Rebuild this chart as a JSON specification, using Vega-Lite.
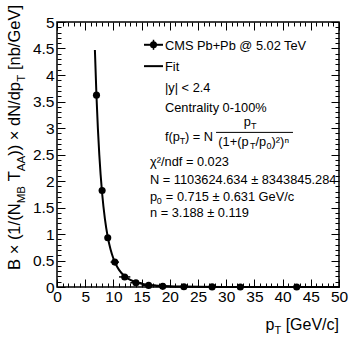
{
  "$schema": "https://vega.github.io/schema/vega-lite/v6.json",
  "width": 282,
  "height": 265,
  "autosize": "none",
  "padding": {"left": 57, "top": 22, "right": 18, "bottom": 56},
  "background": "white",
  "config": {
    "view": {"stroke": "black", "strokeWidth": 1.5},
    "axis": {"grid": false, "domain": false, "tickColor": "black", "tickWidth": 1, "labelColor": "black", "labelFont": "Liberation Sans", "labelFontSize": 15.5, "labelFlush": false, "labelOverlap": false, "labelBound": false, "title": null},
    "text": {"font": "Liberation Sans", "color": "black", "baseline": "alphabetic", "align": "left", "fontSize": 12.8}
  },
  "data": {"values": [{}]},
  "datasets": {
    "fit": [
      {"pT": 6.72, "f": 4.47}, {"pT": 7, "f": 3.6}, {"pT": 7.25, "f": 2.988}, {"pT": 7.5, "f": 2.495},
      {"pT": 8, "f": 1.769}, {"pT": 8.5, "f": 1.281}, {"pT": 9, "f": 0.944}, {"pT": 9.5, "f": 0.7076},
      {"pT": 10, "f": 0.538}, {"pT": 10.5, "f": 0.4146}, {"pT": 11, "f": 0.3232}, {"pT": 12, "f": 0.2029},
      {"pT": 13, "f": 0.1322}, {"pT": 14, "f": 0.0889}, {"pT": 15, "f": 0.0614}, {"pT": 16, "f": 0.0434},
      {"pT": 18, "f": 0.0231}, {"pT": 20, "f": 0.01311}, {"pT": 22, "f": 0.00786}, {"pT": 25, "f": 0.00396},
      {"pT": 30, "f": 0.00149}, {"pT": 35, "f": 0.00065}, {"pT": 40, "f": 0.000317}, {"pT": 45, "f": 0.000168},
      {"pT": 50, "f": 0.0000953}
    ],
    "cms": [
      {"pT": 7, "lo": 6.5, "hi": 7.5, "y": 3.62, "ylo": 3.59, "yhi": 3.65},
      {"pT": 8, "lo": 7.5, "hi": 8.5, "y": 1.82, "ylo": 1.8, "yhi": 1.84},
      {"pT": 9, "lo": 8.5, "hi": 9.5, "y": 0.93, "ylo": 0.915, "yhi": 0.945},
      {"pT": 10.25, "lo": 9.5, "hi": 11, "y": 0.47, "ylo": 0.46, "yhi": 0.48},
      {"pT": 12, "lo": 11, "hi": 13, "y": 0.19, "ylo": 0.183, "yhi": 0.197},
      {"pT": 14, "lo": 13, "hi": 15, "y": 0.08, "ylo": 0.075, "yhi": 0.085},
      {"pT": 16.25, "lo": 15, "hi": 17.5, "y": 0.03, "ylo": 0.027, "yhi": 0.033},
      {"pT": 18.75, "lo": 17.5, "hi": 20, "y": 0.012, "ylo": 0.01, "yhi": 0.014},
      {"pT": 22.5, "lo": 20, "hi": 25, "y": 0.006, "ylo": 0.005, "yhi": 0.007},
      {"pT": 27.5, "lo": 25, "hi": 30, "y": 0.002, "ylo": 0.0016, "yhi": 0.0024},
      {"pT": 32.5, "lo": 30, "hi": 35, "y": 0.0009, "ylo": 0.0007, "yhi": 0.0011},
      {"pT": 42.5, "lo": 35, "hi": 50, "y": 0.0003, "ylo": 0.0002, "yhi": 0.0004}
    ]
  },
  "resolve": {"axis": {"x": "independent", "y": "independent"}},
  "layer": [
    {
      "data": {"name": "fit"},
      "mark": {"type": "line", "color": "black", "strokeWidth": 2, "interpolate": "monotone"},
      "encoding": {
        "x": {"field": "pT", "type": "quantitative", "scale": {"domain": [0, 50], "nice": false, "zero": false},
          "axis": {"orient": "bottom", "values": [0,5,10,15,20,25,30,35,40,45,50], "tickSize": -8, "labelPadding": 10, "format": "d"}},
        "y": {"field": "f", "type": "quantitative", "scale": {"domain": [0, 5], "nice": false, "zero": false},
          "axis": {"orient": "left", "values": [0,0.5,1,1.5,2,2.5,3,3.5,4,4.5,5], "tickSize": -8, "labelPadding": 11, "format": "~g"}}
      }
    },
    {
      "data": {"name": "cms"},
      "mark": {"type": "rule", "color": "black", "strokeWidth": 1.5},
      "encoding": {
        "x": {"field": "lo", "type": "quantitative", "axis": {"orient": "bottom", "values": [1,2,3,4,6,7,8,9,11,12,13,14,16,17,18,19,21,22,23,24,26,27,28,29,31,32,33,34,36,37,38,39,41,42,43,44,46,47,48,49], "tickSize": -4, "labels": false}},
        "x2": {"field": "hi"},
        "y": {"field": "y", "type": "quantitative", "axis": {"orient": "left", "values": [0.1,0.2,0.3,0.4,0.6,0.7,0.8,0.9,1.1,1.2,1.3,1.4,1.6,1.7,1.8,1.9,2.1,2.2,2.3,2.4,2.6,2.7,2.8,2.9,3.1,3.2,3.3,3.4,3.6,3.7,3.8,3.9,4.1,4.2,4.3,4.4,4.6,4.7,4.8,4.9], "tickSize": -4, "labels": false}}
      }
    },
    {
      "data": {"name": "cms"},
      "mark": {"type": "rule", "color": "black", "strokeWidth": 1.5},
      "encoding": {
        "x": {"field": "pT", "type": "quantitative", "axis": {"orient": "top", "values": [0,5,10,15,20,25,30,35,40,45,50], "tickSize": -8, "labels": false}},
        "y": {"field": "ylo", "type": "quantitative", "axis": {"orient": "right", "values": [0,0.5,1,1.5,2,2.5,3,3.5,4,4.5,5], "tickSize": -8, "labels": false}},
        "y2": {"field": "yhi"}
      }
    },
    {
      "data": {"name": "cms"},
      "mark": {"type": "circle", "color": "black", "opacity": 1, "size": 50},
      "encoding": {
        "x": {"field": "pT", "type": "quantitative", "axis": {"orient": "top", "values": [1,2,3,4,6,7,8,9,11,12,13,14,16,17,18,19,21,22,23,24,26,27,28,29,31,32,33,34,36,37,38,39,41,42,43,44,46,47,48,49], "tickSize": -4, "labels": false}},
        "y": {"field": "y", "type": "quantitative", "axis": {"orient": "right", "values": [0.1,0.2,0.3,0.4,0.6,0.7,0.8,0.9,1.1,1.2,1.3,1.4,1.6,1.7,1.8,1.9,2.1,2.2,2.3,2.4,2.6,2.7,2.8,2.9,3.1,3.2,3.3,3.4,3.6,3.7,3.8,3.9,4.1,4.2,4.3,4.4,4.6,4.7,4.8,4.9], "tickSize": -4, "labels": false}}
      }
    },
    {"mark": {"type": "rule", "color": "black", "strokeWidth": 2},
     "encoding": {"x": {"datum": 15.43, "type": "quantitative", "axis": null}, "x2": {"datum": 18.79}, "y": {"datum": 4.57, "type": "quantitative", "axis": null}}},
    {"mark": {"type": "rule", "color": "black", "strokeWidth": 1.5},
     "encoding": {"x": {"datum": 17.11, "type": "quantitative", "axis": null}, "y": {"datum": 4.475, "type": "quantitative", "axis": null}, "y2": {"datum": 4.665}}},
    {"mark": {"type": "circle", "color": "black", "opacity": 1, "size": 50},
     "encoding": {"x": {"datum": 17.11, "type": "quantitative", "axis": null}, "y": {"datum": 4.57, "type": "quantitative", "axis": null}}},
    {"mark": {"type": "rule", "color": "black", "strokeWidth": 2},
     "encoding": {"x": {"datum": 15.43, "type": "quantitative", "axis": null}, "x2": {"datum": 18.79}, "y": {"datum": 4.167, "type": "quantitative", "axis": null}}},
    {"mark": {"type": "text", "text": "CMS Pb+Pb @ 5.02 TeV"},
     "encoding": {"x": {"datum": 19.15, "type": "quantitative", "axis": null}, "y": {"datum": 4.481, "type": "quantitative", "axis": null}}},
    {"mark": {"type": "text", "text": "Fit"},
     "encoding": {"x": {"datum": 19.15, "type": "quantitative", "axis": null}, "y": {"datum": 4.08, "type": "quantitative", "axis": null}}},
    {"mark": {"type": "text", "text": "|y| < 2.4"},
     "encoding": {"x": {"datum": 19.15, "type": "quantitative", "axis": null}, "y": {"datum": 3.67, "type": "quantitative", "axis": null}}},
    {"mark": {"type": "text", "text": "Centrality 0-100%"},
     "encoding": {"x": {"datum": 19.15, "type": "quantitative", "axis": null}, "y": {"datum": 3.31, "type": "quantitative", "axis": null}}},
    {"mark": {"type": "text", "text": "f(p"},
     "encoding": {"x": {"datum": 19.15, "type": "quantitative", "axis": null}, "y": {"datum": 2.746, "type": "quantitative", "axis": null}}},
    {"mark": {"type": "text", "text": "T", "fontSize": 9, "dy": 3},
     "encoding": {"x": {"datum": 21.78, "type": "quantitative", "axis": null}, "y": {"datum": 2.746, "type": "quantitative", "axis": null}}},
    {"mark": {"type": "text", "text": ") = N"},
     "encoding": {"x": {"datum": 22.7, "type": "quantitative", "axis": null}, "y": {"datum": 2.746, "type": "quantitative", "axis": null}}},
    {"mark": {"type": "text", "text": "p"},
     "encoding": {"x": {"datum": 33.1, "type": "quantitative", "axis": null}, "y": {"datum": 3.035, "type": "quantitative", "axis": null}}},
    {"mark": {"type": "text", "text": "T", "fontSize": 9, "dy": 3},
     "encoding": {"x": {"datum": 34.4, "type": "quantitative", "axis": null}, "y": {"datum": 3.035, "type": "quantitative", "axis": null}}},
    {"mark": {"type": "rule", "color": "black", "strokeWidth": 1},
     "encoding": {"x": {"datum": 28.2, "type": "quantitative", "axis": null}, "x2": {"datum": 41.84}, "y": {"datum": 2.917, "type": "quantitative", "axis": null}}},
    {"mark": {"type": "text", "text": "(1+(p"},
     "encoding": {"x": {"datum": 28.6, "type": "quantitative", "axis": null}, "y": {"datum": 2.661, "type": "quantitative", "axis": null}}},
    {"mark": {"type": "text", "text": "T", "fontSize": 9, "dy": 3},
     "encoding": {"x": {"datum": 34.2, "type": "quantitative", "axis": null}, "y": {"datum": 2.661, "type": "quantitative", "axis": null}}},
    {"mark": {"type": "text", "text": "/p"},
     "encoding": {"x": {"datum": 35.2, "type": "quantitative", "axis": null}, "y": {"datum": 2.661, "type": "quantitative", "axis": null}}},
    {"mark": {"type": "text", "text": "0", "fontSize": 9, "dy": 3},
     "encoding": {"x": {"datum": 37.15, "type": "quantitative", "axis": null}, "y": {"datum": 2.661, "type": "quantitative", "axis": null}}},
    {"mark": {"type": "text", "text": ")²)ⁿ"},
     "encoding": {"x": {"datum": 38.05, "type": "quantitative", "axis": null}, "y": {"datum": 2.661, "type": "quantitative", "axis": null}}},
    {"mark": {"type": "text", "text": "χ²/ndf = 0.023"},
     "encoding": {"x": {"datum": 16.49, "type": "quantitative", "axis": null}, "y": {"datum": 2.282, "type": "quantitative", "axis": null}}},
    {"mark": {"type": "text", "text": "N = 1103624.634 ± 8343845.284"},
     "encoding": {"x": {"datum": 16.49, "type": "quantitative", "axis": null}, "y": {"datum": 1.941, "type": "quantitative", "axis": null}}},
    {"mark": {"type": "text", "text": "p"},
     "encoding": {"x": {"datum": 16.49, "type": "quantitative", "axis": null}, "y": {"datum": 1.617, "type": "quantitative", "axis": null}}},
    {"mark": {"type": "text", "text": "0", "fontSize": 9, "dy": 3},
     "encoding": {"x": {"datum": 17.7, "type": "quantitative", "axis": null}, "y": {"datum": 1.617, "type": "quantitative", "axis": null}}},
    {"mark": {"type": "text", "text": "= 0.715 ± 0.631 GeV/c"},
     "encoding": {"x": {"datum": 19.3, "type": "quantitative", "axis": null}, "y": {"datum": 1.617, "type": "quantitative", "axis": null}}},
    {"mark": {"type": "text", "text": "n = 3.188 ± 0.119"},
     "encoding": {"x": {"datum": 16.49, "type": "quantitative", "axis": null}, "y": {"datum": 1.314, "type": "quantitative", "axis": null}}},
    {"mark": {"type": "text", "text": "p", "fontSize": 16, "align": "right"},
     "encoding": {"x": {"datum": 38.56, "type": "quantitative", "axis": null}, "y": {"datum": -0.814, "type": "quantitative", "axis": null}}},
    {"mark": {"type": "text", "text": "T", "fontSize": 11, "align": "right", "dy": 4},
     "encoding": {"x": {"datum": 39.75, "type": "quantitative", "axis": null}, "y": {"datum": -0.814, "type": "quantitative", "axis": null}}},
    {"mark": {"type": "text", "text": "[GeV/c]", "fontSize": 16, "align": "right"},
     "encoding": {"x": {"datum": 50, "type": "quantitative", "axis": null}, "y": {"datum": -0.814, "type": "quantitative", "axis": null}}},
    {"mark": {"type": "text", "text": "B × (1/(N", "fontSize": 16.5, "angle": 270},
     "encoding": {"x": {"datum": -6.51, "type": "quantitative", "axis": null}, "y": {"datum": 0.322, "type": "quantitative", "axis": null}}},
    {"mark": {"type": "text", "text": "MB", "fontSize": 11.5, "angle": 270, "dy": 4.5},
     "encoding": {"x": {"datum": -6.51, "type": "quantitative", "axis": null}, "y": {"datum": 1.581, "type": "quantitative", "axis": null}}},
    {"mark": {"type": "text", "text": "T", "fontSize": 16.5, "angle": 270},
     "encoding": {"x": {"datum": -6.51, "type": "quantitative", "axis": null}, "y": {"datum": 1.994, "type": "quantitative", "axis": null}}},
    {"mark": {"type": "text", "text": "AA", "fontSize": 11.5, "angle": 270, "dy": 4.5},
     "encoding": {"x": {"datum": -6.51, "type": "quantitative", "axis": null}, "y": {"datum": 2.186, "type": "quantitative", "axis": null}}},
    {"mark": {"type": "text", "text": ")) × dN/dp", "fontSize": 16.5, "angle": 270},
     "encoding": {"x": {"datum": -6.51, "type": "quantitative", "axis": null}, "y": {"datum": 2.475, "type": "quantitative", "axis": null}}},
    {"mark": {"type": "text", "text": "T", "fontSize": 11.5, "angle": 270, "dy": 4.5},
     "encoding": {"x": {"datum": -6.51, "type": "quantitative", "axis": null}, "y": {"datum": 3.873, "type": "quantitative", "axis": null}}},
    {"mark": {"type": "text", "text": "[nb/GeV]", "fontSize": 16.5, "angle": 270},
     "encoding": {"x": {"datum": -6.51, "type": "quantitative", "axis": null}, "y": {"datum": 4.093, "type": "quantitative", "axis": null}}}
  ]
}
